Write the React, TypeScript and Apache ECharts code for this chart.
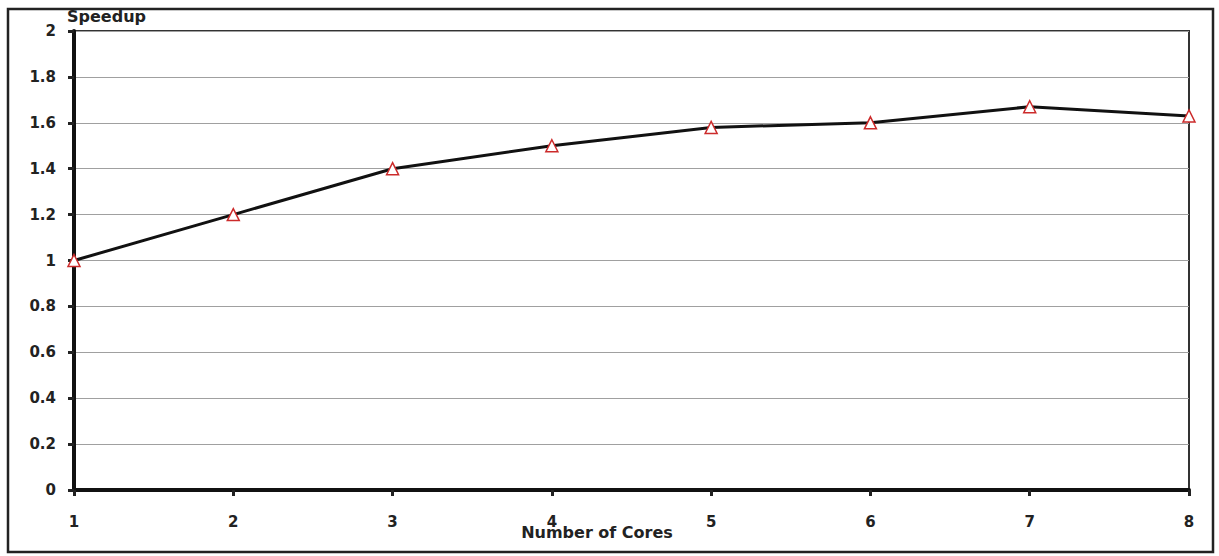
import React, { useEffect, useRef } from "react";
import * as echarts from "echarts";

const cores = [1, 2, 3, 4, 5, 6, 7, 8];
const speedup = [1.0, 1.2, 1.4, 1.5, 1.58, 1.6, 1.67, 1.63];
const yTicks = [0, 0.2, 0.4, 0.6, 0.8, 1, 1.2, 1.4, 1.6, 1.8, 2];

const FONT = "'DejaVu Sans', 'Noto Sans', sans-serif";

export default function App() {
  const ref = useRef<HTMLDivElement>(null);
  useEffect(() => {
    if (!ref.current) return;
    const chart = echarts.init(ref.current, null, { renderer: "svg" });
    chart.setOption({
      animation: false,
      backgroundColor: "#fff",
      grid: {
        left: 74,
        right: 30,
        top: 31,
        bottom: 66,
        show: true,
        borderColor: "#333",
        borderWidth: 2,
        backgroundColor: "transparent",
      },
      xAxis: {
        type: "value",
        min: 1,
        max: 8,
        interval: 1,
        axisLine: { show: true, lineStyle: { color: "#111", width: 4 } },
        axisTick: { show: true, length: 6, lineStyle: { color: "#222", width: 3 } },
        axisLabel: {
          margin: 24,
          fontFamily: FONT,
          fontWeight: "bold",
          fontSize: 15,
          color: "#222",
          formatter: (v: number) => (cores.includes(v) ? String(v) : ""),
        },
        splitLine: { show: false },
      },
      yAxis: {
        type: "value",
        min: 0,
        max: 2,
        interval: 0.2,
        axisLine: { show: true, onZero: false, lineStyle: { color: "#111", width: 4 } },
        axisTick: { show: true, length: 6, lineStyle: { color: "#222", width: 3 } },
        axisLabel: {
          margin: 18,
          fontFamily: FONT,
          fontWeight: "bold",
          fontSize: 15,
          color: "#222",
          formatter: (v: number) => {
            const t = yTicks.find((y) => Math.abs(y - v) < 1e-6);
            return t === undefined ? "" : String(t);
          },
        },
        splitLine: { show: true, lineStyle: { color: "#a0a0a0", width: 1 } },
      },
      series: [
        {
          type: "line",
          data: cores.map((c, i) => [c, speedup[i]]),
          lineStyle: { color: "#111", width: 3 },
          symbol: "triangle",
          symbolSize: 12,
          itemStyle: { color: "#fff", borderColor: "#cc2b2b", borderWidth: 1.5 },
          z: 5,
        },
      ],
      graphic: [
        {
          type: "rect",
          shape: { x: 8, y: 9, width: 1205, height: 543 },
          style: { fill: "none", stroke: "#222", lineWidth: 2.5 },
          silent: true,
        },
        {
          type: "text",
          x: 67,
          y: 8,
          style: {
            text: "Speedup",
            fontFamily: FONT,
            fontWeight: "bold",
            fontSize: 16,
            fill: "#222",
          },
        },
        {
          type: "text",
          x: 597,
          y: 524,
          style: {
            text: "Number of Cores",
            fontFamily: FONT,
            fontWeight: "bold",
            fontSize: 16,
            fill: "#222",
            textAlign: "center",
          },
        },
      ],
    });
    return () => chart.dispose();
  }, []);
  return (
    <div
      ref={ref}
      style={{ position: "fixed", left: 0, top: 0, width: 1219, height: 556 }}
    />
  );
}
